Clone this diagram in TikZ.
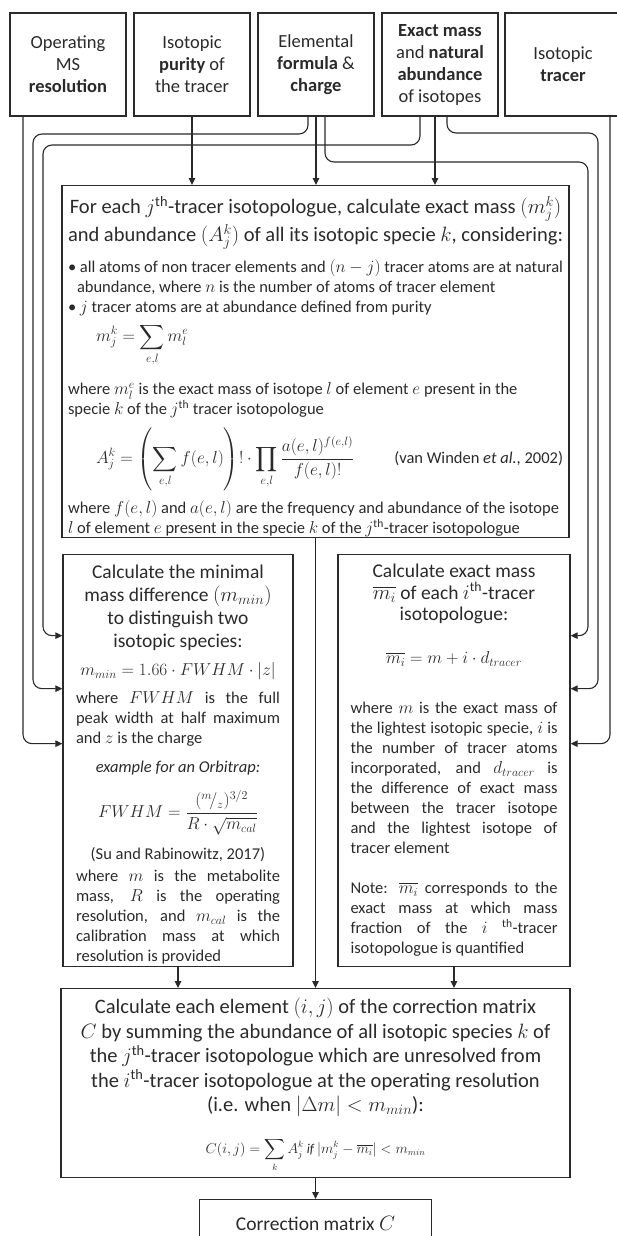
\documentclass[tikz,border=0pt]{standalone}
\usepackage{fontspec}
\setmainfont{Carlito}
\usepackage{amsmath}
\usetikzlibrary{arrows.meta,positioning,calc}
\definecolor{ink}{HTML}{2A2A2A}

\newcommand{\thsup}{^{\text{th}}}
\newcommand{\titlefont}{\fontsize{20.5}{23}\selectfont}
\newcommand{\sidetitle}{\fontsize{19.5}{23}\selectfont}
\newcommand{\bodyfont}{\fontsize{16.5}{20}\selectfont}
\newcommand{\sidefont}{\fontsize{16.5}{20}\selectfont}
% fixed-height text block, filled from the top
\newcommand{\boxtext}[3]{\parbox[c][#2][t]{#1}{\lineskiplimit=-100pt\relax #3}}

\begin{document}
\begin{tikzpicture}[x=1pt, y=-1pt,
  inbox/.style={rectangle, draw=ink, line width=1.3pt, minimum width=116pt, minimum height=103pt, align=center, inner sep=2pt, text=ink, font=\fontsize{18.5}{22}\selectfont},
  stepbox/.style={rectangle, draw=ink, line width=1.3pt, anchor=north, inner sep=0pt, text=ink},
  arr/.style={-{Triangle[length=7pt,width=6.5pt]}, line width=1.1pt, draw=ink},
  link/.style={arr, rounded corners=9pt}
]
\useasboundingbox (0,0) rectangle (617,1236);

% inputs
\node[inbox] (res) at (68,64.5) {Operating\\MS\\\textbf{resolution}};
\node[inbox] (pur) at (192,64.5) {Isotopic\\\textbf{purity} of\\the tracer};
\node[inbox] (form) at (316,64.5) {Elemental\\\textbf{formula} \&\\\textbf{charge}};
\node[inbox] (abund) at (440,64.5) {\textbf{Exact mass}\\and \textbf{natural}\\\textbf{abundance}\\of isotopes};
\node[inbox] (tracer) at (563,64.5) {Isotopic\\\textbf{tracer}};

% isotopic species of each isotopologue
\node[stepbox, minimum width=507pt] (spec) at (315.5,185) {\boxtext{495pt}{352pt}{%
  {\centering\titlefont\rule{0pt}{28pt}For each $j\thsup$-tracer isotopologue, calculate exact mass $(m_j^k)$\\[5pt]
  and abundance $(A_j^k)$ of all its isotopic specie $k$, considering:\par}
  \bodyfont\raggedright\vspace{11pt}
  \textbullet\ all atoms of non tracer elements and $(n-j)$ tracer atoms are at natural\\
  \hspace*{9pt}abundance, where $n$ is the number of atoms of tracer element\\
  \textbullet\ $j$ tracer atoms are at abundance defined from purity\\[9pt]
  \hspace*{28pt}$\displaystyle m_j^k = \sum_{e,l} m_l^e$\\[33pt]
  where $m_l^e$ is the exact mass of isotope $l$ of element $e$ present in the\\
  specie $k$ of the $j\thsup$ tracer isotopologue\\[29pt]
  \hspace*{28pt}$\displaystyle A_j^k = \left(\sum_{e,l} f(e,l)\right)!\cdot\prod_{e,l}\frac{a(e,l)^{f(e,l)}}{f(e,l)!}$\hspace{40pt}(van Winden \textit{et al.}, 2002)\\[30pt]
  where $f(e,l)$ and $a(e,l)$ are the frequency and abundance of the isotope\\
  $l$ of element $e$ present in the specie $k$ of the $j\thsup$-tracer isotopologue}};

% minimal mass difference
\node[stepbox, minimum width=230pt] (mmin) at (178,554) {\boxtext{204pt}{412pt}{%
  {\centering\sidetitle\rule{0pt}{24pt}Calculate the minimal\\ mass difference $(m_{min})$\\ to distinguish two\\ isotopic species:\par}
  \sidefont\vspace{8pt}
  {\centering $m_{min} = 1.66\cdot FWHM\cdot|z|$\par}
  \vspace{8pt}
  where $FWHM$ is the full\linebreak peak width at half maximum\linebreak and $z$ is the charge\par
  \vspace{9pt}
  {\centering\textit{example for an Orbitrap:}\par}
  \vspace{25pt}
  {\centering $FWHM = \dfrac{({}^{m}\!/_{z})^{3/2}}{R\cdot\sqrt{m_{cal}}}$\par}
  \vspace{22pt}
  {\centering (Su and Rabinowitz, 2017)\par}
  \vspace{2pt}
  where $m$ is the metabolite\linebreak mass, $R$ is the operating\linebreak resolution, and $m_{cal}$ is the\linebreak calibration mass at which\linebreak resolution is provided\par}};

% exact mass of each isotopologue
\node[stepbox, minimum width=232pt] (mbar) at (454,554) {\boxtext{207pt}{412pt}{%
  {\centering\sidetitle\rule{0pt}{23pt}Calculate exact mass\\[-1.5pt] $\overline{m_i}$ of each $i\thsup$-tracer\\[-1.5pt] isotopologue:\par}
  \sidefont\vspace{23pt}
  {\centering $\overline{m_i} = m + i\cdot d_{tracer}$\par}
  \vspace{30pt}
  where $m$ is the exact mass of\linebreak the lightest isotopic specie, $i$ is\linebreak the number of tracer atoms\linebreak incorporated, and $d_{tracer}$ is\linebreak the difference of exact mass\linebreak between the tracer isotope\linebreak and the lightest isotope of\linebreak tracer element\par
  \vspace{20pt}
  Note: $\overline{m_i}$ corresponds to the\linebreak exact mass at which mass\linebreak fraction of the $i$ \textsuperscript{th}-tracer\linebreak isotopologue is quantified\par}};

% correction matrix elements
\node[stepbox, minimum width=509pt] (mat) at (315.5,988) {\boxtext{495pt}{189pt}{%
  \centering\fontsize{20.5}{24.5}\selectfont\rule{0pt}{25pt}Calculate each element $(i,j)$ of the correction matrix\\
  $C$ by summing the abundance of all isotopic species $k$ of\\
  the $j\thsup$-tracer isotopologue which are unresolved from\\
  the $i\thsup$-tracer isotopologue at the operating resolution\\
  (i.e. when $|\Delta m| < m_{min}$):\\[17.5pt]
  {\fontsize{13.5}{16}\selectfont $\displaystyle C(i,j) = \sum_k A_j^k\ \mathit{if}\ |m_j^k - \overline{m_i}| < m_{min}$}\par}};

\node[stepbox, minimum width=232pt, minimum height=48pt, font=\sidetitle] (corr) at (315.5,1199) {Correction matrix $C$};

% inputs to the species box
\draw[arr] (pur) -- (pur |- spec.north);
\draw[arr] (form) -- (form |- spec.north);
\draw[arr] ([xshift=-5pt]abund.south) -- ([xshift=-5pt]abund.south |- spec.north);

% inputs to the side boxes
\draw[link] ([xshift=-45pt]res.south) |- ([yshift=17pt]mmin.west);
\draw[link] ([xshift=-8pt]form.south) |- (33,134) |- ([yshift=72pt]mmin.west);
\draw[link] ([xshift=-20pt]abund.south) |- (43,145) |- ([yshift=125pt]mmin.west);
\draw[link] ([xshift=9pt]form.south) |- (588,162) |- ([yshift=125pt]mbar.east);
\draw[link] ([xshift=7pt]abund.south) |- (598,133) |- ([yshift=72pt]mbar.east);
\draw[link] ([xshift=47pt]tracer.south) |- ([yshift=17pt]mbar.east);

% towards the matrix
\draw[arr] (spec) -- (spec |- mat.north);
\draw[arr] (mmin) -- (mmin |- mat.north);
\draw[arr] (mbar) -- (mbar |- mat.north);
\draw[arr] (mat) -- (corr);
\end{tikzpicture}
\end{document}
